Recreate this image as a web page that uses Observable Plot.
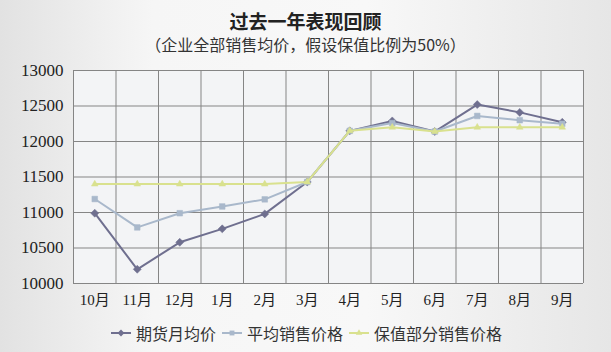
<!DOCTYPE html>
<html><head><meta charset="utf-8">
<script src="https://cdn.jsdelivr.net/npm/d3@7"></script>
<script src="https://cdn.jsdelivr.net/npm/@observablehq/plot@0.6"></script>
<style>
body{margin:0;}
#wrap{width:611px;height:352px;background:linear-gradient(to right,#e2e2e2,#f6f6f6 25%,#f8f8f8 60%,#e6e6e6);position:relative;overflow:hidden;font-family:"Liberation Serif","Noto Sans CJK SC",serif;color:#222;}
#title{position:absolute;top:9px;left:0;width:611px;text-align:center;font-size:19px;font-weight:bold;font-family:"Noto Sans CJK SC",serif;line-height:24px;}
#sub{position:absolute;top:34px;left:0;width:611px;text-align:center;font-size:16px;font-family:"Noto Sans CJK SC",serif;line-height:20px;color:#333;}
#chart{position:absolute;top:56px;left:0;}
#legend{position:absolute;top:322px;left:0;width:611px;text-align:center;font-size:16px;font-family:"Noto Sans CJK SC",serif;color:#333;line-height:22px;}
#legend span.item{display:inline-flex;align-items:center;margin:0 2px;}
#legend svg{margin-right:3px;}
</style></head>
<body><div id="wrap">
<div id="title">过去一年表现回顾</div>
<div id="sub">（企业全部销售均价，假设保值比例为50%）</div>
<div id="chart"></div>
<div id="legend"></div>
</div>
<script>
const months = ["10月","11月","12月","1月","2月","3月","4月","5月","6月","7月","8月","9月"];
const seriesNames = ["期货月均价","平均销售价格","保值部分销售价格"];
const futures = [10990,10200,10580,10770,10980,11430,12150,12290,12140,12520,12410,12270];
const avgSale = [11190,10790,10990,11085,11185,11430,12150,12260,12140,12360,12300,12250];
const hedged  = [11400,11400,11400,11400,11400,11430,12150,12200,12140,12200,12200,12200];
const yTicks = [10000,10500,11000,11500,12000,12500,13000];
const colors = ["#6f6f8f","#a9b8cb","#d9e18e"];
const symbols = ["diamond2","square2","triangle2"];

const allSeries = [futures, avgSale, hedged];
const rows = allSeries.flatMap((vals, s) => vals.map((v, i) => ({i, m: months[i], v, s: seriesNames[s]})));
const bounds = d3.range(months.length + 1).map(i => i - 0.5);

const marks = [
  Plot.frame({fill:"#f3f4f6", stroke:null}),
  Plot.ruleY(yTicks, {stroke:"#858585", strokeWidth:1}),
  Plot.ruleX(bounds, {stroke:"#858585", strokeWidth:1}),
  Plot.axisY({ticks: yTicks, tickSize:0, tickPadding:10, fontSize:17, fontFamily:"Liberation Serif", tickFormat: d => String(d), color:"#222", label:null}),
  Plot.axisX({ticks: d3.range(months.length), tickSize:0, tickPadding:11, fontSize:15, fontFamily:"Liberation Serif, Noto Sans CJK SC", tickFormat: i => months[i], color:"#222", label:null})
];
[0,1,2].forEach(s => {
  const data = rows.filter(d => d.s === seriesNames[s]);
  marks.push(Plot.line(data, {x:"i", y:"v", stroke: colors[s], strokeWidth:2}));
  marks.push(Plot.dot(data, {x:"i", y:"v", symbol: () => symbols[s], fill: colors[s], stroke: colors[s], strokeWidth:0.5, r: s===2 ? 3.2 : 3.6}));
});

const chart = Plot.plot({
  width:611, height:256,
  marginTop:14, marginBottom:29, marginLeft:73, marginRight:28,
  style:{background:"transparent", overflow:"visible"},
  x:{type:"linear", domain:[-0.5, months.length - 0.5], axis:null},
  y:{domain:[yTicks[0], yTicks[yTicks.length-1]], axis:null},
  symbol:{type:"ordinal", domain: symbols, range: symbols},
  marks
});
document.getElementById("chart").appendChild(chart);

const leg = document.getElementById("legend");
seriesNames.forEach((name, s) => {
  const item = document.createElement("span");
  item.className = "item";
  const sym = d3.symbol(s===0 ? d3.symbolDiamond2 : s===1 ? d3.symbolSquare2 : d3.symbolTriangle2, 30)();
  item.innerHTML = `<svg width="24" height="14"><line x1="2" x2="22" y1="7" y2="7" stroke="${colors[s]}" stroke-width="2"/><path transform="translate(12,7)" d="${sym}" fill="${colors[s]}"/></svg><span>${name}</span>`;
  leg.appendChild(item);
});
</script>
</body></html>
